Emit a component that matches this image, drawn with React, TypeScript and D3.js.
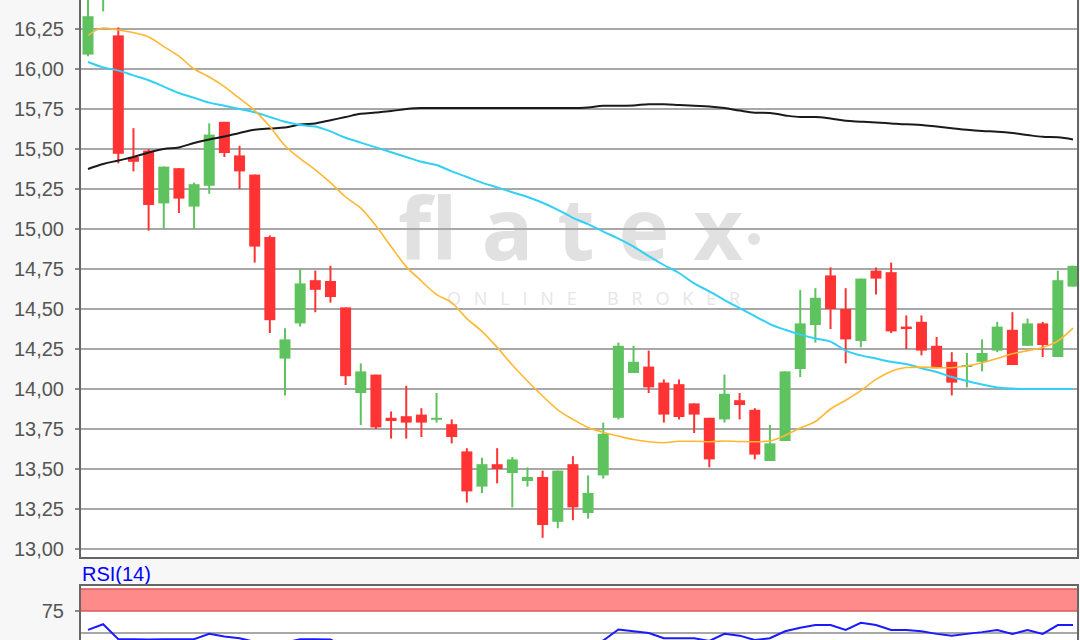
import React from 'react';
import * as d3 from 'd3';

const W = 1080;
const H = 640;

// Daily OHLC candles
const opens = [16.09, 16.45, 16.21, 15.45, 15.49, 15.16, 15.38, 15.14, 15.27, 15.67,
  15.46, 15.34, 14.95, 14.19, 14.41, 14.68, 14.675, 14.51, 13.975, 14.09,
  13.82, 13.83, 13.84, 13.81, 13.78, 13.61, 13.39, 13.53, 13.475, 13.425,
  13.45, 13.17, 13.53, 13.225, 13.46, 13.82, 14.10, 14.14, 14.04, 14.03,
  13.91, 13.82, 13.81, 13.93, 13.87, 13.55, 13.675, 14.125, 14.40, 14.71,
  14.50, 14.30, 14.74, 14.73, 14.39, 14.42, 14.27, 14.17, 14.14, 14.17,
  14.24, 14.37, 14.27, 14.41, 14.20, 14.64];
const highs = [16.47, 16.58, 16.26, 15.63, 15.50, 15.39, 15.38, 15.29, 15.66, 15.67,
  15.52, 15.34, 14.96, 14.38, 14.75, 14.74, 14.77, 14.51, 14.16, 14.09,
  13.86, 14.02, 13.88, 13.975, 13.81, 13.63, 13.57, 13.63, 13.575, 13.51,
  13.49, 13.49, 13.58, 13.46, 13.79, 14.29, 14.27, 14.24, 14.06, 14.06,
  13.91, 13.82, 14.09, 13.975, 13.88, 13.775, 14.11, 14.62, 14.63, 14.76,
  14.63, 14.69, 14.76, 14.79, 14.46, 14.46, 14.325, 14.23, 14.225, 14.31,
  14.42, 14.48, 14.44, 14.42, 14.74, 14.77];
const lows = [16.08, 16.36, 15.41, 15.36, 14.99, 15.00, 15.10, 15.00, 15.22, 15.45,
  15.25, 14.79, 14.35, 13.96, 14.39, 14.48, 14.54, 14.025, 13.775, 13.75,
  13.69, 13.69, 13.70, 13.79, 13.66, 13.29, 13.35, 13.41, 13.26, 13.39,
  13.07, 13.13, 13.18, 13.19, 13.44, 13.81, 14.10, 13.975, 13.79, 13.81,
  13.725, 13.51, 13.79, 13.81, 13.56, 13.55, 13.675, 14.075, 14.29, 14.375,
  14.16, 14.26, 14.59, 14.35, 14.25, 14.21, 14.13, 13.96, 14.01, 14.11,
  14.23, 14.15, 14.27, 14.20, 14.20, 14.64];
const closes = [16.33, 16.53, 15.47, 15.42, 15.15, 15.39, 15.19, 15.28, 15.59, 15.475,
  15.36, 14.89, 14.43, 14.31, 14.66, 14.62, 14.575, 14.08, 14.11, 13.76,
  13.80, 13.79, 13.79, 13.82, 13.70, 13.36, 13.53, 13.50, 13.56, 13.45,
  13.15, 13.49, 13.26, 13.35, 13.72, 14.27, 14.17, 14.01, 13.84, 13.825,
  13.84, 13.56, 13.97, 13.90, 13.59, 13.66, 14.11, 14.41, 14.57, 14.50,
  14.31, 14.69, 14.69, 14.36, 14.375, 14.24, 14.13, 14.04, 14.15, 14.225,
  14.39, 14.15, 14.41, 14.275, 14.68, 14.77];

// Moving averages (short / medium / long)
const maShort = [16.21, 16.256, 16.244, 16.227, 16.20, 16.14, 16.08, 16.00, 15.95, 15.89,
  15.816, 15.74, 15.64, 15.52, 15.44, 15.37, 15.29, 15.20, 15.13, 15.02,
  14.89, 14.765, 14.675, 14.59, 14.54, 14.44, 14.36, 14.26, 14.15, 14.05,
  13.956, 13.87, 13.81, 13.76, 13.73, 13.706, 13.684, 13.67, 13.664, 13.673,
  13.673, 13.67, 13.675, 13.672, 13.67, 13.675, 13.71, 13.756, 13.797, 13.875,
  13.93, 13.99, 14.06, 14.11, 14.134, 14.137, 14.133, 14.133, 14.145, 14.164,
  14.19, 14.22, 14.24, 14.26, 14.30, 14.38];
const maMedium = [16.044, 16.01, 15.99, 15.96, 15.93, 15.89, 15.85, 15.82, 15.79, 15.77,
  15.75, 15.73, 15.70, 15.67, 15.65, 15.64, 15.61, 15.57, 15.54, 15.51,
  15.48, 15.45, 15.42, 15.40, 15.36, 15.325, 15.29, 15.26, 15.23, 15.20,
  15.164, 15.12, 15.07, 15.03, 14.984, 14.94, 14.89, 14.83, 14.775, 14.725,
  14.66, 14.61, 14.556, 14.506, 14.456, 14.406, 14.37, 14.34, 14.316, 14.296,
  14.24, 14.21, 14.19, 14.17, 14.156, 14.13, 14.106, 14.075, 14.05, 14.028,
  14.01, 14.003, 14.0, 14.0, 14.0, 14.0];
const maLong = [15.375, 15.406, 15.428, 15.45, 15.478, 15.50, 15.51, 15.538, 15.56, 15.578,
  15.60, 15.62, 15.628, 15.634, 15.653, 15.66, 15.68, 15.70, 15.72, 15.728,
  15.737, 15.75, 15.756, 15.756, 15.756, 15.756, 15.756, 15.756, 15.756, 15.756,
  15.756, 15.756, 15.756, 15.76, 15.77, 15.77, 15.772, 15.78, 15.78, 15.775,
  15.77, 15.766, 15.756, 15.74, 15.727, 15.725, 15.71, 15.70, 15.70, 15.69,
  15.676, 15.671, 15.666, 15.66, 15.654, 15.65, 15.64, 15.63, 15.62, 15.6125,
  15.608, 15.60, 15.5875, 15.576, 15.573, 15.56];

// RSI(14)
const rsiValues = [53.5, 60, 43, 43, 42.5, 43, 43, 43, 49, 46,
  44, 40, 36, 39, 43, 43, 42.5, 34, 36, 32,
  32, 32.5, 32.5, 33, 31, 26, 29, 29, 31, 30.5,
  26, 33, 31, 35, 41.5, 54, 52, 50, 44, 44,
  44, 41, 49, 47, 42, 44, 52, 56, 59, 59,
  53.5, 61.5, 59, 53.5, 53.5, 52, 49, 47, 49, 51,
  53.5, 49, 53.5, 49, 59, 59];

const priceTicks = [13.0, 13.25, 13.5, 13.75, 14.0, 14.25, 14.5, 14.75, 15.0, 15.25, 15.5, 15.75, 16.0, 16.25, 16.5];
const rsiTicks = [75];
const rsiGrid = [50];
const rsiZone = [75, 100];

const plotLeft = 80;
const plotRight = 1078;
const priceTop = -40;
const priceBottom = 558;
const rsiTop = 585;
const rsiBottom = 700;

const FONT = "'Liberation Sans', Arial, Helvetica, sans-serif";
const GREEN = '#5ec35e';
const RED = '#ff3333';

const fmt = (v: number) => d3.format('.2f')(v).replace('.', ',');

export default function App() {
  const idx = d3.range(closes.length);
  const x = d3.scaleLinear().domain([0, closes.length - 1]).range([88, 1073]);
  const y = d3.scaleLinear().domain([13, 16.25]).range([549, 29]);
  const yr = d3.scaleLinear().domain([50, 100]).range([633, 589]);

  const bodyW = 11;

  const maLine = (vals: number[]) =>
    d3.line<number>().x((_, i) => x(i)).y((v) => y(v)).curve(d3.curveMonotoneX)(vals) || '';
  const rsiLine = d3.line<number>().x((_, i) => x(i)).y((v) => yr(v))(rsiValues) || '';

  return (
    <svg width={W} height={H} style={{ position: 'absolute', left: 0, top: 0, display: 'block' }}>
      <defs>
        <clipPath id="priceClip">
          <rect x={plotLeft + 1} y={priceTop} width={plotRight - plotLeft - 2} height={priceBottom - priceTop - 1} />
        </clipPath>
        <clipPath id="rsiClip">
          <rect x={plotLeft + 1} y={rsiTop + 1} width={plotRight - plotLeft - 2} height={rsiBottom - rsiTop} />
        </clipPath>
      </defs>
      <rect x={0} y={0} width={W} height={H} fill="#f7f7f7" />

      {/* price panel */}
      <rect x={plotLeft} y={priceTop} width={plotRight - plotLeft} height={priceBottom - priceTop} fill="#ffffff" />
      <g clipPath="url(#priceClip)">
        {/* brand watermark */}
        <text x={398} y={260} textLength={345} lengthAdjust="spacing" fontFamily="'Open Sans', sans-serif"
          fontWeight={700} fontSize={86} fill="#e1e1e1">flatex</text>
        <circle cx={754} cy={239} r={6} fill="#e1e1e1" />
        <text x={447} y={305} textLength={293} lengthAdjust="spacing" fontFamily="'Open Sans', sans-serif"
          fontSize={18} fill="#e6e6e6">ONLINE BROKER</text>

        {priceTicks.map((t) => (
          <line key={t} x1={plotLeft} x2={plotRight} y1={y(t)} y2={y(t)} stroke="#a8a8a8" strokeWidth={2} />
        ))}

        {idx.map((i) => {
          const up = closes[i] >= opens[i];
          const c = up ? GREEN : RED;
          const top = y(Math.max(opens[i], closes[i]));
          const bot = y(Math.min(opens[i], closes[i]));
          const h = Math.max(2, bot - top);
          return (
            <g key={i}>
              <line x1={x(i)} x2={x(i)} y1={y(highs[i])} y2={y(lows[i])} stroke={c} strokeWidth={2} />
              <rect x={x(i) - bodyW / 2} y={top} width={bodyW} height={h} fill={c} />
            </g>
          );
        })}

        <path d={maLine(maLong)} fill="none" stroke="#1a1a1a" strokeWidth={2} />
        <path d={maLine(maMedium)} fill="none" stroke="#33d0f5" strokeWidth={2} />
        <path d={maLine(maShort)} fill="none" stroke="#ffb732" strokeWidth={1.6} />
      </g>
      <line x1={plotLeft} x2={plotLeft} y1={priceTop} y2={priceBottom} stroke="#666" strokeWidth={2} />
      <line x1={plotRight} x2={plotRight} y1={priceTop} y2={priceBottom} stroke="#666" strokeWidth={2} />
      <line x1={plotLeft - 1} x2={plotRight + 1} y1={priceBottom} y2={priceBottom} stroke="#666" strokeWidth={2} />
      {priceTicks.map((t) => (
        <g key={t}>
          <line x1={plotLeft - 5} x2={plotLeft} y1={y(t)} y2={y(t)} stroke="#666" strokeWidth={1.5} />
          <text x={64} y={y(t)} dy="0.36em" textAnchor="end" fontFamily={FONT} fontSize={20} fill="#555">{fmt(t)}</text>
        </g>
      ))}

      {/* RSI panel */}
      <text x={82} y={581} fontFamily={FONT} fontSize={20} fill="#0000ff">RSI(14)</text>
      <rect x={plotLeft} y={rsiTop} width={plotRight - plotLeft} height={rsiBottom - rsiTop} fill="#ffffff" />
      <g clipPath="url(#rsiClip)">
        <rect x={plotLeft} y={yr(rsiZone[1])} width={plotRight - plotLeft} height={yr(rsiZone[0]) - yr(rsiZone[1])} fill="#ff8a8a" />
        {rsiZone.map((v) => (
          <line key={v} x1={plotLeft} x2={plotRight} y1={yr(v)} y2={yr(v)} stroke="#d45b5b" strokeWidth={1.5} />
        ))}
        {rsiGrid.map((v) => (
          <line key={v} x1={plotLeft} x2={plotRight} y1={yr(v)} y2={yr(v)} stroke="#a8a8a8" strokeWidth={2} />
        ))}
        <path d={rsiLine} fill="none" stroke="#1a1aff" strokeWidth={2} />
      </g>
      <line x1={plotLeft - 1} x2={plotRight + 1} y1={rsiTop} y2={rsiTop} stroke="#666" strokeWidth={2} />
      <line x1={plotLeft} x2={plotLeft} y1={rsiTop} y2={rsiBottom} stroke="#666" strokeWidth={2} />
      <line x1={plotRight} x2={plotRight} y1={rsiTop} y2={rsiBottom} stroke="#666" strokeWidth={2} />
      {rsiTicks.map((t) => (
        <g key={t}>
          <line x1={plotLeft - 5} x2={plotLeft} y1={yr(t)} y2={yr(t)} stroke="#666" strokeWidth={1.5} />
          <text x={64} y={yr(t)} dy="0.36em" textAnchor="end" fontFamily={FONT} fontSize={20} fill="#555">{t}</text>
        </g>
      ))}
    </svg>
  );
}
